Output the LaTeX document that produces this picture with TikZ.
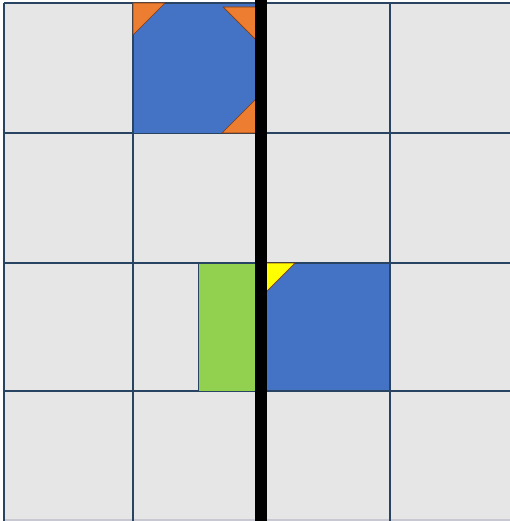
\documentclass[tikz,border=0pt]{standalone}
\definecolor{cellgray}{RGB}{230,230,230}
\definecolor{gridline}{RGB}{40,68,98}
\definecolor{edgegray}{RGB}{200,200,210}
\definecolor{myblue}{RGB}{68,114,196}
\definecolor{myorange}{RGB}{237,125,49}
\definecolor{mygreen}{RGB}{146,208,80}
\definecolor{myyellow}{RGB}{255,255,0}
\definecolor{tribord}{RGB}{132,60,12}
\tikzset{
  grid line/.style={draw=gridline, line width=1.8pt},
  blueblock/.style={fill=myblue, draw=gridline, line width=0.8pt},
  greenblock/.style={fill=mygreen, draw=gridline, line width=0.8pt},
  orangetri/.style={fill=myorange, draw=tribord, line width=0.7pt, line join=round},
  yellowtri/.style={fill=myyellow, draw=tribord, line width=0.7pt, line join=round},
  bar/.style={fill=black}
}
\begin{document}
\begin{tikzpicture}[x=1pt,y=-1pt]
\useasboundingbox (0,0) rectangle (510,521);
\begin{scope}
\clip (0,0) rectangle (510,521);
\fill[white] (0,0) rectangle (510,521);
% cells
\fill[cellgray] (4,3) rectangle (530,540);
\draw[edgegray, line width=1.2pt] (4,520) -- (530,520);
% grid lines
\foreach \x in {4,133,262,390}
  \draw[grid line] (\x,3) -- (\x,540);
\foreach \y in {3,133,263,391}
  \draw[grid line] (4,\y) -- (530,\y);
% top blue block with orange corners
\draw[blueblock] (133,3) rectangle (262,133);
\draw[orangetri] (133,3) -- (165,3) -- (133,35) -- cycle;
\draw[orangetri] (223,7) -- (262,7) -- (262,46) -- cycle;
\draw[orangetri] (222,133) -- (262,93) -- (262,133) -- cycle;
% green block
\draw[greenblock] (198,263) rectangle (262,391);
% bottom blue block with yellow corner
\draw[blueblock] (262,263) rectangle (389,390);
\draw[yellowtri] (262,263) -- (295,263) -- (262,296) -- cycle;
% black bar
\fill[bar] (255,0) rectangle (267,521);
\end{scope}
\end{tikzpicture}
\end{document}
